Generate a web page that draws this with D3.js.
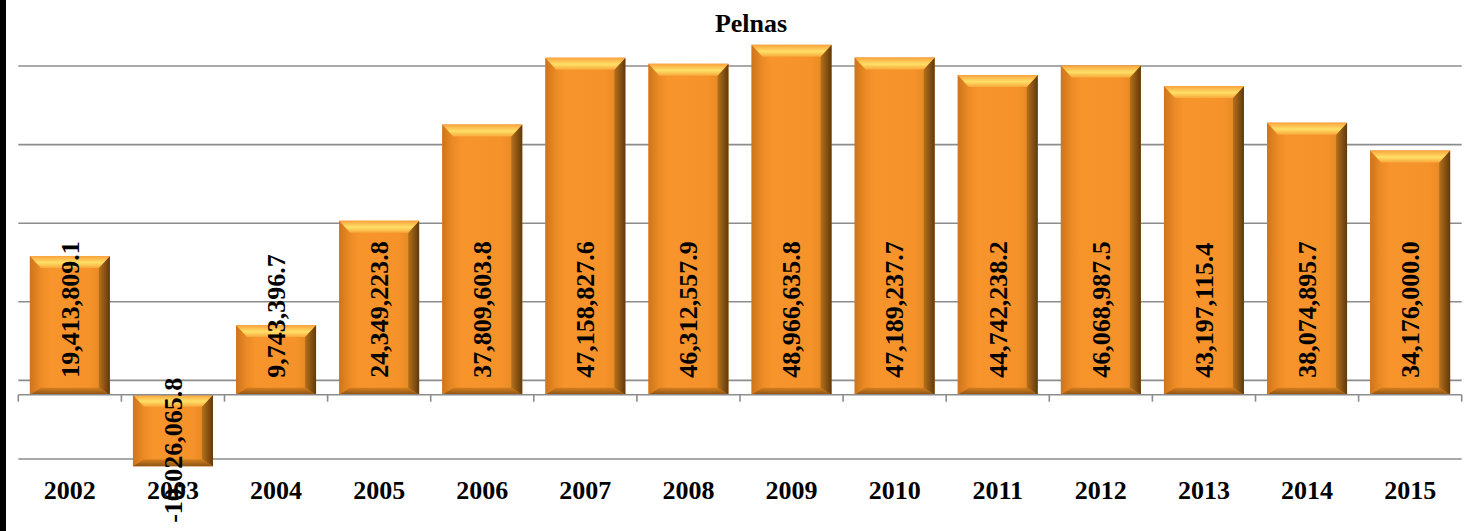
<!DOCTYPE html>
<html>
<head>
<meta charset="utf-8">
<script src="https://d3js.org/d3.v7.min.js"></script>
<style>
  html, body { margin: 0; padding: 0; background: #fff; }
  svg { display: block; }
  text { font-family: "Liberation Serif", "Times New Roman", serif; font-weight: bold; fill: #000; }
</style>
</head>
<body>
<div id="chart"></div>
<script>
// Data
const years = ["2002", "2003", "2004", "2005", "2006", "2007", "2008",
               "2009", "2010", "2011", "2012", "2013", "2014", "2015"];
const profit = [19413809.1, -10026065.8, 9743396.7, 24349223.8, 37809603.8, 47158827.6, 46312557.9,
                48966635.8, 47189237.7, 44742238.2, 46068987.5, 43197115.4, 38074895.7, 34176000.0];
const gridValues = [-9e6, 2e6, 13e6, 24e6, 35e6, 46e6];

const data = years.map((y, i) => ({ year: y, value: profit[i] }));

const W = 1474, H = 531;
const left = 18.3, right = 1461.7;

const svg = d3.select("#chart")
    .append("svg")
    .attr("width", W)
    .attr("height", H);

// black strip on the left edge of the picture
svg.append("rect")
    .attr("x", 0).attr("y", 0)
    .attr("width", 6).attr("height", H)
    .attr("fill", "#000");

// Scales
const band = d3.scaleBand().domain(years).range([left, right]).padding(0);
const x = d3.scaleBand().domain(years).range([left, right])
    .paddingInner(0.224).paddingOuter(0.112);
const y = d3.scaleLinear().domain([-9e6, 46e6]).range([459, 66]);

// Gradients
const defs = svg.append("defs");
function grad(id, dir, stops) {
    const g = defs.append("linearGradient").attr("id", id);
    if (dir === "h") g.attr("x1", 0).attr("y1", 0).attr("x2", 1).attr("y2", 0);
    else g.attr("x1", 0).attr("y1", 0).attr("x2", 0).attr("y2", 1);
    stops.forEach(s => g.append("stop").attr("offset", s[0]).attr("stop-color", s[1]));
}
grad("face", "h", [[0, "#e07d1e"], [0.25, "#f7952c"], [0.75, "#f5922a"], [1, "#d9821f"]]);
grad("topBev", "v", [[0, "#f9a23c"], [0.55, "#ffe066"], [1, "#f7a83c"]]);
grad("rightBev", "h", [[0, "#b8701a"], [1, "#5e3a0c"]]);
grad("leftBev", "h", [[0, "#c8711a"], [1, "#ec8c25"]]);
grad("botBev", "v", [[0, "#d07c1e"], [1, "#7a4a12"]]);

// Gridlines
svg.append("g")
    .selectAll("line")
    .data(gridValues)
    .join("line")
    .attr("x1", left).attr("x2", right)
    .attr("y1", d => y(d)).attr("y2", d => y(d))
    .attr("stroke", "#8c8c8c")
    .attr("stroke-width", 1.6);

// Bars with bevel
const bars = svg.append("g")
    .selectAll("g")
    .data(data)
    .join("g");

bars.each(function(d) {
    const g = d3.select(this);
    const x0 = x(d.year), x1 = x0 + x.bandwidth();
    const yTop = Math.min(y(d.value), y(0));
    const yBot = Math.max(y(d.value), y(0));
    const bt = 12, bs = 11, bb = 7;
    const pts = a => a.map(p => p.join(",")).join(" ");
    g.append("rect")
        .attr("x", x0).attr("y", yTop)
        .attr("width", x1 - x0).attr("height", yBot - yTop)
        .attr("fill", "url(#face)");
    g.append("polygon")
        .attr("points", pts([[x0, yTop], [x0 + bs, yTop + bt], [x0 + bs, yBot - bb], [x0, yBot]]))
        .attr("fill", "url(#leftBev)").attr("opacity", 0.75);
    g.append("polygon")
        .attr("points", pts([[x1, yTop], [x1 - bs, yTop + bt], [x1 - bs, yBot - bb], [x1, yBot]]))
        .attr("fill", "url(#rightBev)");
    g.append("polygon")
        .attr("points", pts([[x0, yBot], [x0 + bs, yBot - bb], [x1 - bs, yBot - bb], [x1, yBot]]))
        .attr("fill", "url(#botBev)").attr("opacity", 0.85);
    g.append("polygon")
        .attr("points", pts([[x0, yTop], [x1, yTop], [x1 - bs, yTop + bt], [x0 + bs, yTop + bt]]))
        .attr("fill", "url(#topBev)");
});

// Zero axis with outside ticks at category boundaries
const axis = svg.append("g");
axis.append("line")
    .attr("x1", left).attr("x2", right)
    .attr("y1", y(0)).attr("y2", y(0))
    .attr("stroke", "#8c8c8c").attr("stroke-width", 1.6);
axis.selectAll("line.tick")
    .data(years.concat(["end"]))
    .join("line")
    .attr("class", "tick")
    .attr("x1", d => d === "end" ? right : band(d))
    .attr("x2", d => d === "end" ? right : band(d))
    .attr("y1", y(0)).attr("y2", y(0) + 7)
    .attr("stroke", "#8c8c8c").attr("stroke-width", 1.6);

// Category labels
svg.append("g")
    .selectAll("text")
    .data(years)
    .join("text")
    .attr("x", d => band(d) + band.bandwidth() / 2)
    .attr("y", 499)
    .attr("text-anchor", "middle")
    .attr("font-size", 26)
    .text(d => d);

// Data labels (inside base, rotated)
const fmt = d3.format(",.1f");
svg.append("g")
    .selectAll("text")
    .data(data)
    .join("text")
    .attr("transform", d => `translate(${x(d.year) + x.bandwidth() / 2},${y(0) - 17}) rotate(-90)`)
    .attr("text-anchor", d => d.value < 0 ? "end" : "start")
    .attr("dy", "0.34em")
    .attr("font-size", 26)
    .text(d => fmt(d.value).replace("−", "-"));

// Title
svg.append("text")
    .attr("x", 751)
    .attr("y", 32)
    .attr("text-anchor", "middle")
    .attr("font-size", 26)
    .text("Pelnas");
</script>
</body>
</html>
